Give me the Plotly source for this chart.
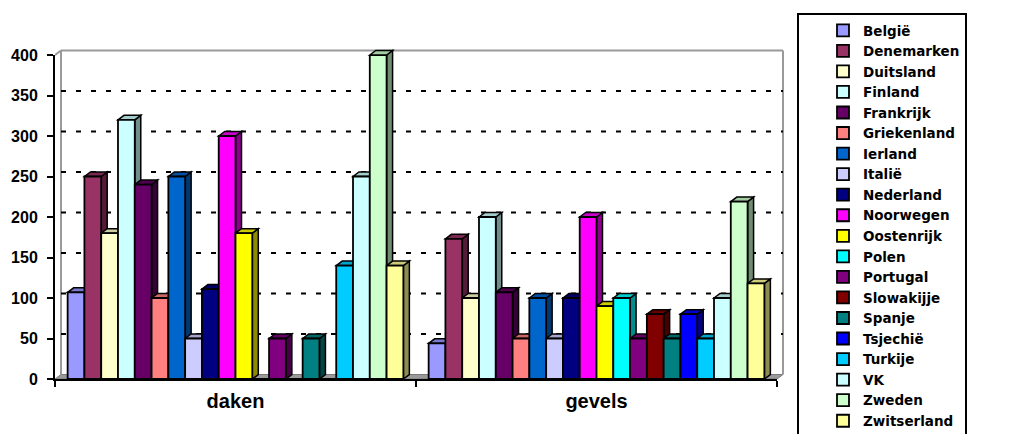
import plotly.graph_objects as go

# ---- data -------------------------------------------------------------
categories = ["daken", "gevels"]
countries = ["België", "Denemarken", "Duitsland", "Finland", "Frankrijk",
             "Griekenland", "Ierland", "Italië", "Nederland", "Noorwegen",
             "Oostenrijk", "Polen", "Portugal", "Slowakijje", "Spanje",
             "Tsjechië", "Turkije", "VK", "Zweden", "Zwitserland"]
daken = [107, 250, 180, 320, 240, 100, 250, 50, 111, 300,
         180, 0, 50, 0, 50, 0, 140, 250, 400, 140]
gevels = [44, 173, 100, 200, 107, 50, 100, 50, 100, 200,
          90, 100, 50, 80, 50, 80, 50, 100, 219, 118]
colors = ["#9999FF", "#993366", "#FFFFCC", "#CCFFFF", "#660066",
          "#FF8080", "#0066CC", "#CCCCFF", "#000080", "#FF00FF",
          "#FFFF00", "#00FFFF", "#800080", "#800000", "#008080",
          "#0000FF", "#00CCFF", "#CCFFFF", "#CCFFCC", "#FFFF99"]
y_ticks = [0, 50, 100, 150, 200, 250, 300, 350, 400]

# ---- geometry ---------------------------------------------------------
W_PX, H_PX = 1011, 434
ML, MT, MB = 55, 49, 55
PX_X = 361.0            # pixels per category unit
PX_Y = 0.81             # pixels per value unit
DEPTH_X_PX, DEPTH_Y_PX = 6.0, 4.5
DX = DEPTH_X_PX / PX_X
DY = DEPTH_Y_PX / PX_Y
Y_MAX = 400
X_LO, X_HI = -0.5, 1.5
x_hi_full = X_HI + (DEPTH_X_PX + 2) / PX_X
plot_w = (x_hi_full - X_LO) * PX_X
plot_h = H_PX - MT - MB
y_hi_full = plot_h / PX_Y
front_w = (X_HI - X_LO) * PX_X
front_h = Y_MAX * PX_Y
MR = W_PX - ML - plot_w

GROUP = 0.93
n = len(countries)
bw = GROUP / n


def shade(hex_color, f):
    h = hex_color.lstrip("#")
    r, g, b = (int(h[i:i + 2], 16) for i in (0, 2, 4))
    return "#%02x%02x%02x" % (int(r * f), int(g * f), int(b * f))


fig = go.Figure()

# front faces of the bars (front plane axes)
for j, name in enumerate(countries):
    fig.add_trace(go.Bar(
        x=[0, 1], y=[daken[j], gevels[j]], name=name,
        width=bw, offset=-GROUP / 2 + j * bw,
        marker=dict(color=colors[j], line=dict(color="black", width=1.8)),
        xaxis="x2", yaxis="y2", cliponaxis=False,
    ))

shapes = []
wall = "#9a9a9a"
# floor
shapes.append(dict(
    type="path", xref="x", yref="y", layer="below",
    path=f"M{X_LO},0 L{X_HI},0 L{X_HI + DX},{DY} L{X_LO + DX},{DY} Z",
    fillcolor="#9a9a9a", line=dict(color="#7a7a7a", width=1)))
# wall edges
for x0, y0, x1, y1 in [
    (X_LO + DX, DY, X_LO + DX, Y_MAX + DY),
    (X_LO, Y_MAX, X_LO + DX, Y_MAX + DY),
    (X_LO + DX, Y_MAX + DY, X_HI + DX, Y_MAX + DY),
    (X_HI + DX, DY, X_HI + DX, Y_MAX + DY),
]:
    shapes.append(dict(type="line", xref="x", yref="y", layer="below",
                       x0=x0, y0=y0, x1=x1, y1=y1,
                       line=dict(color=wall, width=2)))
# dashed gridlines on the back wall
for v in y_ticks[1:-1]:
    shapes.append(dict(type="line", xref="x", yref="y", layer="below",
                       x0=X_LO + DX, y0=v + DY, x1=X_HI + DX, y1=v + DY,
                       line=dict(color="black", width=2, dash="5px,10px")))

# side and top faces of the bars
sides, tops = [], []
for j in range(n):
    for c, vals in enumerate([daken, gevels]):
        v = vals[j]
        if v <= 0:
            continue
        x0 = c - GROUP / 2 + j * bw
        x1 = x0 + bw
        sides.append(dict(
            type="path", xref="x", yref="y", layer="below",
            path=f"M{x1},0 L{x1 + DX},{DY} L{x1 + DX},{v + DY} L{x1},{v} Z",
            fillcolor=shade(colors[j], 0.55),
            line=dict(color="black", width=1.5)))
        tops.append(dict(
            type="path", xref="x", yref="y", layer="below",
            path=f"M{x0},{v} L{x0 + DX},{v + DY} L{x1 + DX},{v + DY} L{x1},{v} Z",
            fillcolor=shade(colors[j], 0.8),
            line=dict(color="black", width=1.5)))
shapes += sides + tops

font_family = "Liberation Sans, Arial, sans-serif"

fig.update_layout(
    width=W_PX, height=H_PX,
    margin=dict(l=ML, r=MR, t=MT, b=MB, pad=0, autoexpand=False),
    paper_bgcolor="white", plot_bgcolor="rgba(0,0,0,0)",
    barmode="overlay",
    shapes=shapes,
    showlegend=True,
    legend=dict(
        x=(797 - ML) / plot_w, xanchor="left",
        y=(MT + plot_h - 13) / plot_h, yanchor="top",
        bordercolor="black", borderwidth=2, bgcolor="white",
        font=dict(family="DejaVu Sans, sans-serif", size=13.5, color="black",
                  weight="bold"),
        indentation=24, traceorder="normal", maxheight=600,
    ),
    xaxis=dict(range=[X_LO, x_hi_full], domain=[0, 1], visible=False,
               anchor="y", fixedrange=True),
    yaxis=dict(range=[0, y_hi_full], domain=[0, 1], visible=False,
               anchor="x", fixedrange=True),
    xaxis2=dict(
        range=[X_LO, X_HI], domain=[0, front_w / plot_w], anchor="y2",
        showline=True, linecolor="black", linewidth=2, showgrid=False,
        zeroline=False, tickmode="array", tickvals=[0, 1],
        ticktext=categories, ticks="", ticklabelstandoff=3,
        tickfont=dict(family=font_family, size=20, color="black",
                      weight="bold"),
        minor=dict(tickmode="array", tickvals=[-0.5, 0.5, 1.5],
                   ticks="outside", ticklen=6, tickwidth=2,
                   tickcolor="black", showgrid=False),
    ),
    yaxis2=dict(
        range=[0, Y_MAX], domain=[0, front_h / plot_h], anchor="x2",
        showline=True, linecolor="black", linewidth=2, showgrid=False,
        zeroline=False, tickmode="array", tickvals=y_ticks,
        ticks="outside", ticklen=6, tickwidth=2, tickcolor="black",
        ticklabelstandoff=6,
        tickfont=dict(family=font_family, size=16, color="black",
                      weight="bold"),
    ),
)

fig.write_html("out.html")
